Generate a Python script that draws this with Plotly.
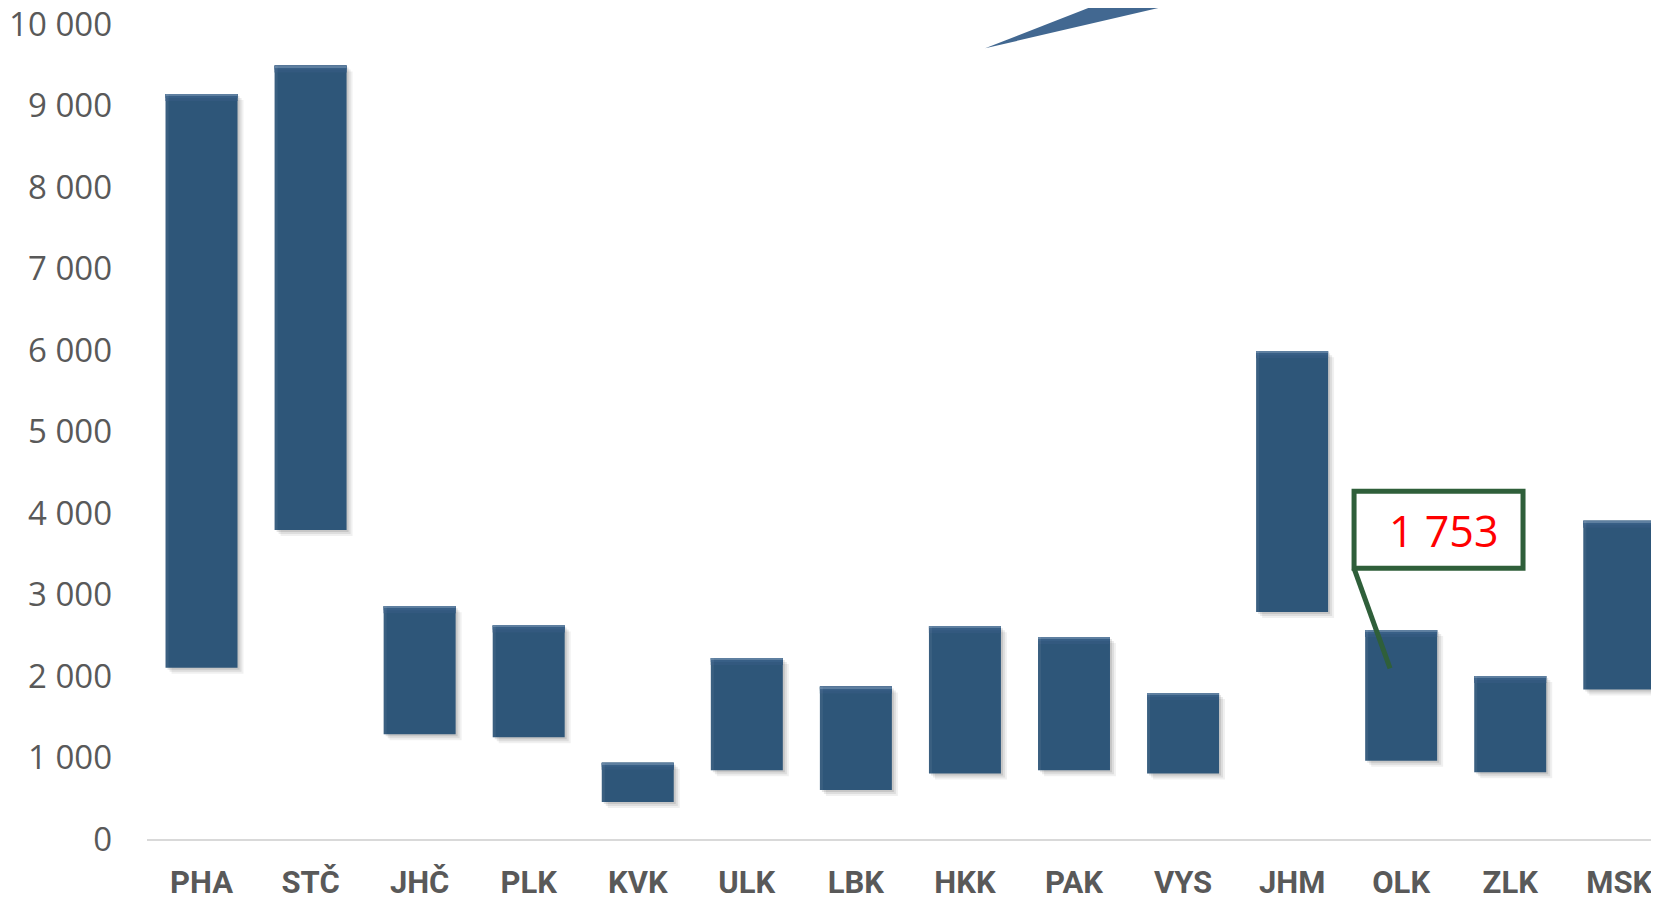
import plotly.graph_objects as go

# =============================
# DONNÉES
# =============================

kraje = ["PHA", "STČ", "JHČ", "PLK", "KVK", "ULK", "LBK",
         "HKK", "PAK", "VYS", "JHM", "OLK", "ZLK", "MSK"]
dolni = [2100, 3790, 1285, 1250, 455, 845, 600, 805, 845, 805, 2785, 960, 820, 1835]
horni = [9140, 9490, 2855, 2620, 935, 2220, 1870, 2610, 2480, 1790, 5985, 2565, 2000, 3905]
popisek = "1 753"

delky = [h - d for h, d in zip(horni, dolni)]

# stránka má 8px okraj, proto je graf o 8px menší a posunutý
OKRAJ = 8
W, H = 1659 - OKRAJ, 901 - OKRAJ
L, T = 146.7 - OKRAJ, 23.7 - OKRAJ
B = H - (838.7 - OKRAJ)
SLOT = 109.08
PX = 1000 / 81.5          # jednotky osy y na 1 pixel
BAR_W = 0.66
MODRA = "#2E5679"
SEDA = "#595959"
ZELENA = "#2F5F3A"

plot_w = W - L
plot_h = H - T - B

def px_x(px):
    return (px - OKRAJ - L) / plot_w

def px_y(py):
    return (H - B - (py - OKRAJ)) / plot_h

x_idx = list(range(len(kraje)))

fig = go.Figure()

# stín sloupců (rozmazání několika vrstvami)
for px_off, alpha in [(2, 0.10), (4, 0.08), (6, 0.06)]:
    fig.add_trace(go.Bar(
        x=x_idx,
        y=delky,
        base=[d - px_off * PX for d in dolni],
        width=BAR_W,
        offset=-BAR_W / 2 + px_off / SLOT,
        marker=dict(color=f"rgba(0,0,0,{alpha})", line=dict(width=0)),
        hoverinfo="skip",
        showlegend=False,
    ))

fig.add_trace(go.Bar(
    x=x_idx,
    y=delky,
    base=dolni,
    width=BAR_W,
    offset=-BAR_W / 2,
    marker=dict(color=MODRA, line=dict(width=0)),
    showlegend=False,
))

# světlejší horní a levý okraj sloupců
for od, do, barva in [(0, 7, "#33597F"), (0, 4, "#385F86"), (0, 1.5, "#5E7FA0")]:
    fig.add_trace(go.Bar(
        x=x_idx,
        y=[(do - od) * PX] * len(kraje),
        base=[h - do * PX for h in horni],
        width=BAR_W,
        offset=-BAR_W / 2,
        marker=dict(color=barva, line=dict(width=0)),
        hoverinfo="skip",
        showlegend=False,
    ))
fig.add_trace(go.Bar(
    x=x_idx,
    y=delky,
    base=dolni,
    width=3 / SLOT,
    offset=-BAR_W / 2,
    marker=dict(color="rgba(255,255,255,0.06)", line=dict(width=0)),
    hoverinfo="skip",
    showlegend=False,
))

x_max = -0.5 + plot_w / SLOT

fig.update_layout(
    width=W, height=H,
    margin=dict(l=L, r=0, t=T, b=B, autoexpand=False),
    plot_bgcolor="white",
    paper_bgcolor="white",
    barmode="overlay",
    separators=", ",
    showlegend=False,
    xaxis=dict(
        range=[-0.5, x_max],
        tickmode="array",
        tickvals=x_idx,
        ticktext=kraje,
        tickfont=dict(family="Liberation Sans Narrow, Roboto, sans-serif",
                      size=31, color=SEDA, weight="bold"),
        showgrid=False,
        zeroline=False,
        showline=True,
        linecolor="#D9D9D9",
        linewidth=2,
        ticks="",
        ticklabelstandoff=15,
        ticklabeloverflow="allow",
        automargin=False,
    ),
    yaxis=dict(
        range=[0, 10000],
        tickvals=list(range(0, 10001, 1000)),
        tickformat=",d",
        tickfont=dict(family="Open Sans, sans-serif", size=33, color=SEDA),
        showgrid=False,
        zeroline=False,
        showline=False,
        ticks="",
        ticklabelstandoff=34,
        ticklabeloverflow="allow",
        automargin=False,
    ),
)

# popisek s odkazem na OLK
fig.add_shape(type="rect", xref="paper", yref="paper",
              x0=px_x(1354), x1=px_x(1523), y0=px_y(568), y1=px_y(491),
              line=dict(color=ZELENA, width=5), fillcolor="white", layer="above")
fig.add_shape(type="line", xref="paper", yref="paper",
              x0=px_x(1354), y0=px_y(568), x1=px_x(1390), y1=px_y(668),
              line=dict(color=ZELENA, width=5), layer="above")
fig.add_annotation(x=px_x(1444), y=px_y(530), xref="paper", yref="paper",
                   xanchor="center", yanchor="middle",
                   text=popisek, showarrow=False,
                   font=dict(family="Open Sans, sans-serif", size=43, color="#FF0000"))

# výběžek jiného popisku u horního okraje
fig.add_shape(type="path", xref="paper", yref="paper",
              path=(f"M {px_x(985)} {px_y(48)} L {px_x(1113)} {px_y(-2)} "
                    f"L {px_x(1200)} {px_y(-2)} Z"),
              fillcolor="#426891", line=dict(width=0), layer="above")

fig.write_html("out.html")
